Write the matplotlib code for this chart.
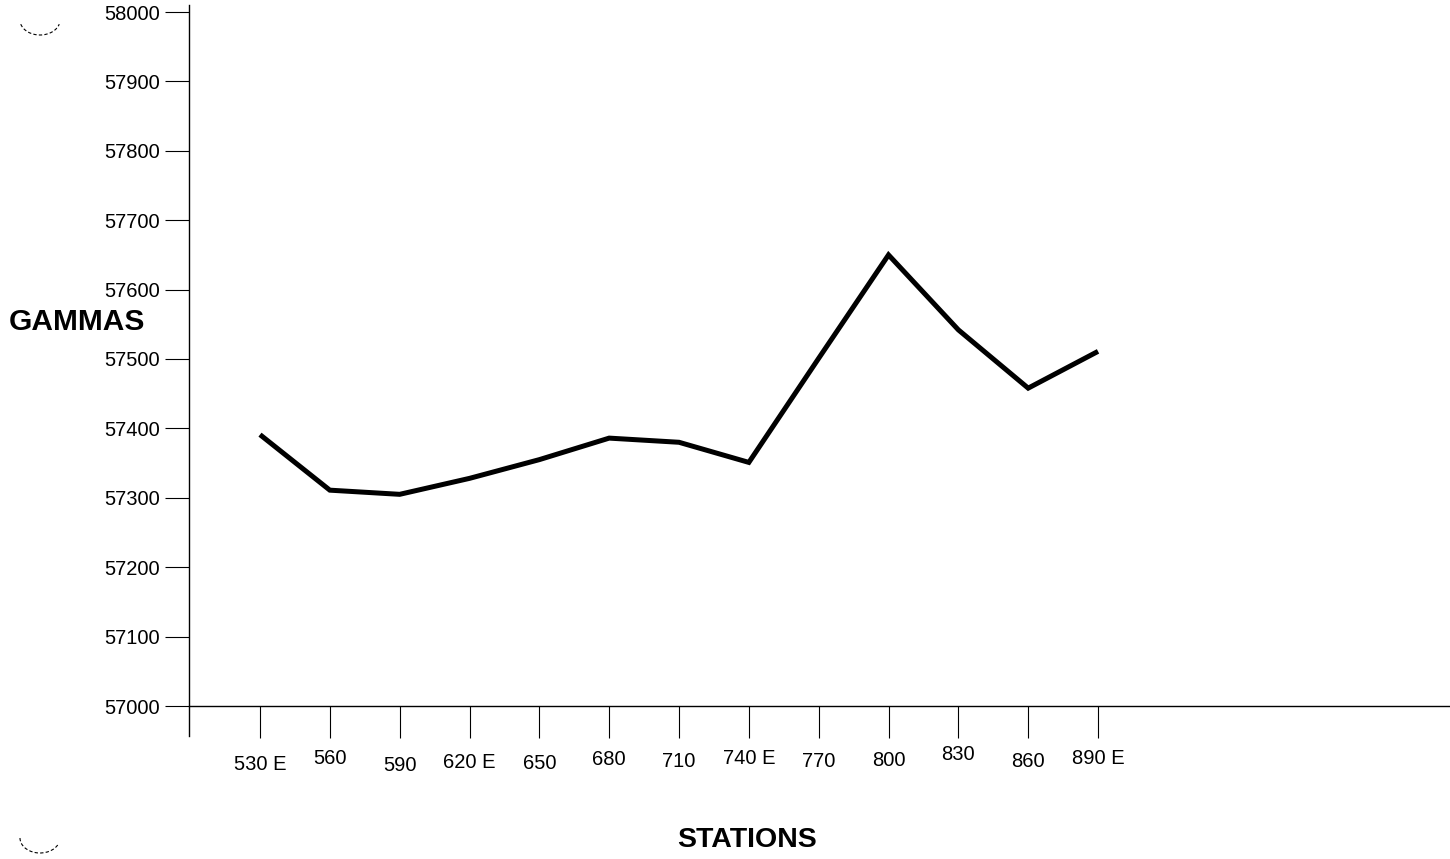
import matplotlib
matplotlib.use("Agg")
import matplotlib.pyplot as plt
from matplotlib.transforms import ScaledTranslation
from matplotlib.patches import Arc

# ---- data ----
stations = [530, 560, 590, 620, 650, 680, 710, 740, 770, 800, 830, 860, 890]
station_labels = ["530 E", "560", "590", "620 E", "650", "680", "710",
                  "740 E", "770", "800", "830", "860", "890 E"]
gammas = [57391, 57311, 57305, 57328, 57355, 57386, 57380, 57351,
          57501, 57650, 57542, 57458, 57511]
y_ticks = [57000, 57100, 57200, 57300, 57400, 57500, 57600, 57700,
           57800, 57900, 58000]

# ---- style ----
plt.rcParams['font.family'] = ['Liberation Sans', 'DejaVu Sans']
W, H, DPI = 1450, 859, 100
fig = plt.figure(figsize=(W / DPI, H / DPI), dpi=DPI)
ax = fig.add_axes([189 / W, 1 - 706 / H, 1 - 189 / W, (706 - 12) / H])

ax.plot(stations, gammas, color='black', lw=3.6, solid_joinstyle='miter',
        solid_capstyle='butt')

ax.set_xlim(499.5, 1041.2)
ax.set_ylim(57000, 58000)

for s in ['top', 'right']:
    ax.spines[s].set_visible(False)
ax.spines['left'].set_linewidth(1.0)
ax.spines['bottom'].set_linewidth(1.0)
ax.spines['left'].set_bounds(56957, 58010)

ax.set_yticks(y_ticks)
ax.set_yticklabels([str(v) for v in y_ticks])
ax.tick_params(axis='y', direction='out', length=17, width=0.8, pad=4,
               labelsize=14.5)

ax.set_xticks(stations)
ax.set_xticklabels(station_labels)
ax.tick_params(axis='x', direction='out', length=23, width=0.8, pad=8,
               labelsize=14.5)

# slight vertical stagger of the station labels as in the scanned original
label_dy_px = [6, 0, 7, 4, 5, 1, 3, 0, 3, 2, -4, 3, 0]
for lbl, dy in zip(ax.get_xticklabels(), label_dy_px):
    lbl.set_transform(lbl.get_transform() +
                      ScaledTranslation(0, -dy / DPI, fig.dpi_scale_trans))

fig.text(77 / W, 1 - 322 / H, "GAMMAS", fontsize=21.5, fontweight='bold',
         ha='center', va='center')
fig.text(747 / W, 1 - 840 / H, "STATIONS", fontsize=20.5, fontweight='bold',
         ha='center', va='center')

# punch-hole marks at the left margin
for cy in [20, 838]:
    arc = Arc((40 / W, 1 - cy / H), 40 / W, 30 / H,
              theta1=200 if cy == 20 else 180,
              theta2=340 if cy == 20 else 330,
              transform=fig.transFigure, color='black', lw=0.8,
              linestyle=(0, (3, 2)))
    fig.add_artist(arc)

fig.savefig("out.png", dpi=DPI)
